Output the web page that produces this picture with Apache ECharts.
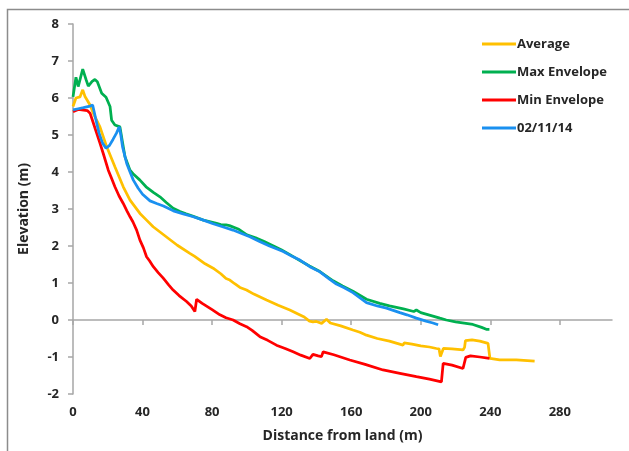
<!DOCTYPE html>
<html>
<head>
<meta charset="utf-8">
<script src="https://cdn.jsdelivr.net/npm/echarts@6/dist/echarts.min.js"></script>
<style>
html,body{margin:0;padding:0;background:#fff;}
#c{width:629px;height:451px;}
</style>
</head>
<body>
<div id="c"></div>
<script>
// ---- data (distance m, elevation m) ----
const xTicks = [0, 40, 80, 120, 160, 200, 240, 280];
const yTicks = [-2, -1, 0, 1, 2, 3, 4, 5, 6, 7, 8];
const seriesNames = ['Average', 'Max Envelope', 'Min Envelope', '02/11/14'];

const avgX = [0,1.7,4,5.6,6.9,9.8,12,15.5,19.4,24.1,28.9,32.8,38.5,42.3,46.1,53.6,60,67.2,70,73,76,80.6,85,88,90.2,93,96,99.8,104,111.3,118,124.7,130,133,136,138,140,143,145.8,148,154,161,165,168.8,175,182,189.8,190.5,195,200,205,209,210.5,211.3,212.3,213,218,224.3,225.2,225.7,229.5,234,238.7,239.5,239.8,245.4,255,265.5];
const avgY = [5.77,6.0,6.03,6.22,6.04,5.81,5.55,5.22,4.68,4.14,3.6,3.24,2.88,2.7,2.52,2.25,2.02,1.8,1.72,1.62,1.52,1.4,1.25,1.12,1.08,0.98,0.88,0.81,0.7,0.54,0.4,0.27,0.15,0.08,-0.03,-0.05,-0.04,-0.09,0.02,-0.08,-0.16,-0.27,-0.33,-0.41,-0.5,-0.57,-0.68,-0.62,-0.65,-0.7,-0.73,-0.77,-0.78,-0.99,-0.97,-0.77,-0.78,-0.81,-0.74,-0.56,-0.54,-0.57,-0.63,-0.63,-1.04,-1.08,-1.08,-1.11];

const maxX = [0,1.7,3,5.6,7.5,8.8,11,12.6,14,16.5,19,21.3,22.2,24.1,27,28.5,29.9,32.8,35,38.5,42,46.2,50,53.8,57.6,61.5,65,69.2,75,82.6,85,88,90,95,100,105,110,115,120,125,130,136,142,149.6,155,161,168.8,176.4,182,190,196,197.5,200,206,211,214.7,220,226,230,235,237.7,239.5];
const maxY = [6.03,6.56,6.31,6.78,6.5,6.32,6.45,6.5,6.44,6.13,6.02,5.77,5.4,5.27,5.22,4.8,4.41,4.05,3.93,3.78,3.6,3.45,3.33,3.17,3.02,2.93,2.87,2.8,2.7,2.61,2.58,2.57,2.55,2.46,2.3,2.22,2.12,2.01,1.89,1.76,1.62,1.46,1.31,1.06,0.92,0.78,0.56,0.45,0.38,0.3,0.23,0.27,0.2,0.12,0.05,0.0,-0.05,-0.09,-0.12,-0.2,-0.25,-0.25];

const minX = [0,3,8.2,9.8,11.5,13.6,15.5,17.4,20.3,22,24.1,26.5,28.9,31,32.8,34.5,36.6,38.5,40.5,42.3,44,46.2,49,51.9,55,57.6,61,65.3,68,70.1,71.1,74.3,80,84.5,88,92.1,96,99.8,103,107.5,112,117,122,126.6,131,136.2,137.2,138,141,142.9,143.9,150,159.2,168,178.3,188,197.5,205,211.9,212.9,218,224.3,225.9,228.6,234,239.5];
const minY = [5.63,5.69,5.66,5.59,5.35,5.05,4.78,4.5,4.05,3.85,3.6,3.35,3.15,2.95,2.79,2.65,2.43,2.16,1.95,1.71,1.6,1.44,1.28,1.13,0.95,0.81,0.66,0.5,0.38,0.23,0.56,0.45,0.28,0.14,0.06,0.0,-0.1,-0.18,-0.28,-0.45,-0.55,-0.68,-0.77,-0.86,-0.95,-1.04,-1.03,-0.93,-0.97,-0.99,-0.86,-0.94,-1.08,-1.2,-1.35,-1.44,-1.53,-1.6,-1.67,-1.17,-1.22,-1.31,-1.01,-0.97,-1.0,-1.04];

const surveyX = [0,3,6,9.8,11.3,13,15,17,19,21,23,25,26.6,27.5,28.5,30.9,32.8,34.7,37.5,40,44.3,48.1,52,57.7,63.4,69.2,75,80.6,86,92,97,101.7,107,113,120.9,126,130.5,136.2,142,147.7,151.5,156,161,168.8,175,180.3,188,192,197.5,203,207,210];
const surveyY = [5.68,5.71,5.74,5.78,5.81,5.45,5.05,4.78,4.64,4.72,4.88,5.05,5.22,5.0,4.68,4.23,4.0,3.78,3.56,3.4,3.22,3.15,3.08,2.95,2.87,2.79,2.7,2.6,2.52,2.43,2.34,2.25,2.13,2.0,1.85,1.72,1.62,1.44,1.3,1.1,0.97,0.87,0.74,0.47,0.38,0.32,0.2,0.14,0.05,-0.03,-0.08,-0.13];

const colors = ['#FFC000', '#00B050', '#FF0000', '#1A90F0'];
const zip = (xs, ys) => xs.map((x, i) => [x, ys[i]]);
const datasets = [zip(avgX, avgY), zip(maxX, maxY), zip(minX, minY), zip(surveyX, surveyY)];

const FONT = '"Open Sans"';
const TXT = '#262626';
const AXIS = '#A6A6A6';

const chart = echarts.init(document.getElementById('c'), null, {renderer: 'canvas'});
chart.setOption({
  animation: false,
  backgroundColor: '#fff',
  graphic: [{
    type: 'rect', silent: true,
    shape: {x: 7.5, y: 9.5, width: 700, height: 600},
    style: {fill: 'none', stroke: '#8C8C8C', lineWidth: 1.5}
  }],
  grid: {left: 73, top: 24, right: 17, bottom: 57, containLabel: false},
  legend: {
    orient: 'vertical', left: 477, top: 31,
    itemWidth: 34, itemHeight: 3, itemGap: 12, icon: 'rect',
    data: seriesNames,
    textStyle: {fontFamily: FONT, fontWeight: 'bold', fontSize: 13, color: TXT, padding: [0,0,0,-4], lineHeight: 16}
  },
  xAxis: {
    type: 'value', min: 0, max: 310, interval: 40,
    name: 'Distance from land (m)', nameLocation: 'middle', nameGap: 35,
    nameTextStyle: {fontFamily: FONT, fontWeight: 'bold', fontSize: 14, color: TXT},
    axisLine: {show: true, lineStyle: {color: AXIS, width: 1.5}},
    axisTick: {show: true, length: 5, lineStyle: {color: AXIS, width: 1.5}, customValues: xTicks},
    axisLabel: {fontFamily: FONT, fontWeight: 'bold', fontSize: 13, color: TXT, margin: 12, customValues: xTicks},
    splitLine: {show: false}
  },
  yAxis: {
    type: 'value', min: -2, max: 8, interval: 1,
    name: 'Elevation (m)', nameLocation: 'middle', nameGap: 42, nameRotate: 90,
    nameTextStyle: {fontFamily: FONT, fontWeight: 'bold', fontSize: 14, color: TXT},
    axisLine: {show: true, lineStyle: {color: AXIS, width: 1.5}},
    axisTick: {show: true, length: 5, lineStyle: {color: AXIS, width: 1.5}},
    axisLabel: {fontFamily: FONT, fontWeight: 'bold', fontSize: 13, color: TXT, margin: 14},
    splitLine: {show: false}
  },
  series: seriesNames.map((n, i) => ({
    name: n, type: 'line', data: datasets[i], showSymbol: false, symbol: 'none',
    lineStyle: {color: colors[i], width: 2.75}, itemStyle: {color: colors[i]}
  }))
});
</script>
</body>
</html>
